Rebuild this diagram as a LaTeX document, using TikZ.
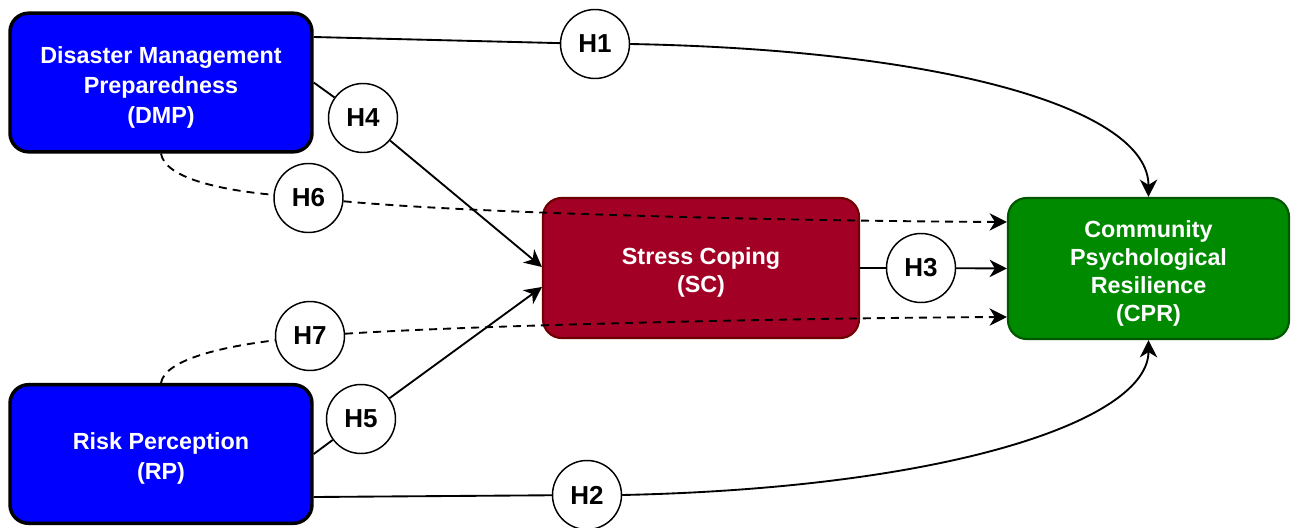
\documentclass[tikz,border=0pt]{standalone}
\usepackage{fontspec}
\setmainfont{Liberation Sans}
\usetikzlibrary{arrows.meta,calc}
\definecolor{dmpblue}{HTML}{0000FF}
\definecolor{scfill}{HTML}{A20025}
\definecolor{scline}{HTML}{6F0000}
\definecolor{cprfill}{HTML}{008A00}
\definecolor{cprline}{HTML}{005700}
\newcommand{\tstrut}{\rule{0pt}{20pt}}
\tikzset{
  boxbase/.style={rounded corners=14pt, align=center, text=white, inner sep=0pt},
  bluebox/.style={boxbase, fill=dmpblue, draw=black, line width=2.6pt,
    font=\fontsize{17.5}{22.5}\selectfont\bfseries,
    minimum width=226.5pt, minimum height=104pt},
  scbox/.style={boxbase, fill=scfill, draw=scline, line width=1.6pt,
    font=\fontsize{17.5}{21}\selectfont\bfseries,
    minimum width=237pt, minimum height=105pt},
  cprbox/.style={boxbase, fill=cprfill, draw=cprline, line width=1.6pt,
    font=\fontsize{17.5}{20.8}\selectfont\bfseries,
    minimum width=210.75pt, minimum height=105.75pt},
  hyp/.style={circle, draw=black, fill=white, line width=1.1pt,
    minimum size=51.75pt, inner sep=0pt,
    font=\fontsize{19.5}{22}\selectfont\bfseries},
  link/.style={line width=1.4pt, draw=black},
  arr/.style={link, -{Stealth[length=13pt,width=13pt,inset=4pt]}},
  dlink/.style={link, dash pattern=on 6pt off 4.5pt},
  darr/.style={dlink, -{Stealth[length=13pt,width=13pt,inset=4pt]}}
}
\begin{document}
\begin{tikzpicture}[x=0.75pt,y=-0.75pt]
\useasboundingbox (0,0) rectangle (1292,528);
% main boxes
\node[bluebox] (dmp) at (161,82.5) {\tstrut Disaster Management\\Preparedness\\(DMP)};
\node[bluebox] (rp) at (161,454) {\tstrut Risk Perception\\(RP)};
\node[scbox] (sc) at (701,268) {\tstrut Stress Coping\\(SC)};
\node[cprbox] (cpr) at (1148.5,268.5) {\tstrut Community\\Psychological\\Resilience\\(CPR)};
% hypothesis circles
\node[hyp] (h1) at (595,44) {H1};
\node[hyp] (h2) at (587,495) {H2};
\node[hyp] (h3) at (921,268) {H3};
\node[hyp] (h4) at (363,118) {H4};
\node[hyp] (h5) at (361,419) {H5};
\node[hyp] (h6) at (308.5,198) {H6};
\node[hyp] (h7) at (310,336) {H7};
% H1
\draw[link] ($(dmp.east)+(0,-45.5)$) -- (h1);
\draw[arr] (h1.east) .. controls (950,50) and (1148.5,110) .. (cpr.north);
% H2
\draw[link] ($(rp.east)+(0,43)$) -- (h2);
\draw[arr] (h2.east) .. controls (950,488) and (1148.5,420) .. (cpr.south);
% H4
\draw[link] (dmp.east) -- (h4);
\draw[arr] (h4) -- ($(sc.west)+(0,-1)$);
% H5
\draw[link] (rp.east) -- (h5);
\draw[arr] (h5) -- ($(sc.west)+(0,19)$);
% H3
\draw[link] (sc.east) -- (h3);
\draw[arr] (h3) -- (cpr.west);
% H6
\draw[dlink] (dmp.south) .. controls (165,178) and (220,190) .. (h6);
\draw[darr] (h6) .. controls (480,214) and (800,221) .. ($(cpr.west)+(0,-46.5)$);
% H7
\draw[dlink] (rp.north) .. controls (165,360) and (220,347) .. (h7);
\draw[darr] (h7) .. controls (480,325) and (800,318) .. ($(cpr.west)+(0,48.5)$);
\end{tikzpicture}
\end{document}
